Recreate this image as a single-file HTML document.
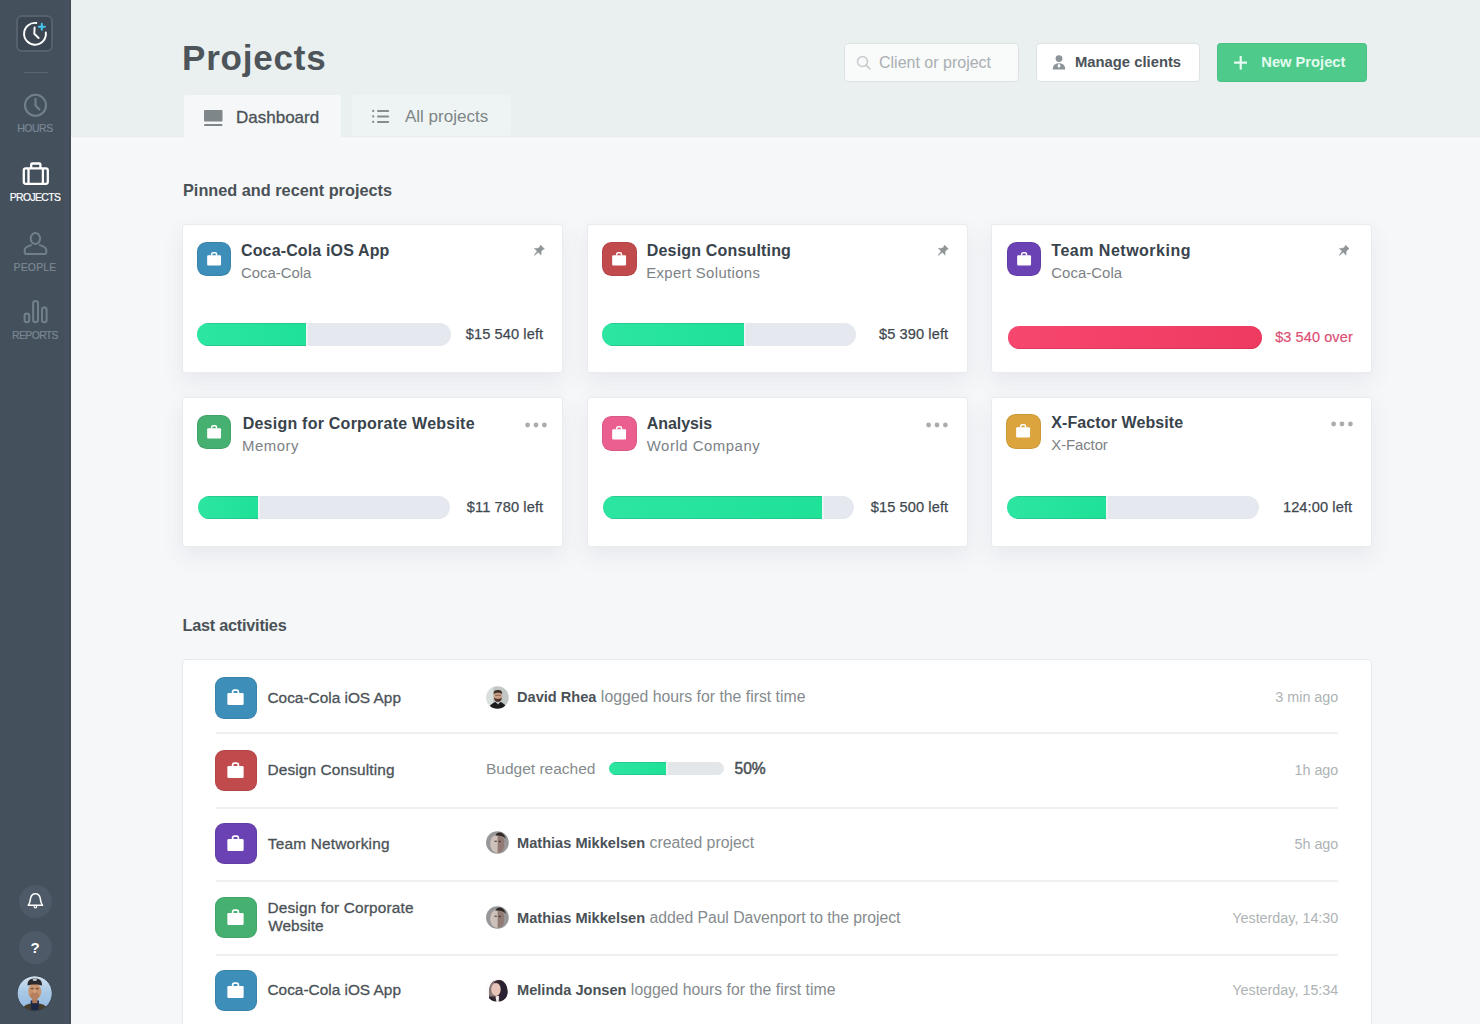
<!DOCTYPE html>
<html>
<head>
<meta charset="utf-8">
<title>Projects</title>
<style>
*{box-sizing:border-box;margin:0;padding:0}
html,body{width:1480px;height:1024px;overflow:hidden}
body{font-family:"Liberation Sans",sans-serif;background:#f6f7f9;color:#4a5257;position:relative}
.abs{position:absolute}
#sidebar{position:absolute;left:0;top:0;width:70.6px;height:1024px;background:linear-gradient(90deg,#44515d 0,#44515d 63.5px,#455061 65px,#455061 68.6px,#424b56 69.2px,#424b56 100%)}
#header{position:absolute;left:0;top:0;width:1480px;height:137px;background:#e9f0ef}
#hshadow{position:absolute;left:0;top:137px;width:1480px;height:7px;background:linear-gradient(180deg,#f0f4f5 0,#f8f9fb 22%,#f7f8fa 70%,#f6f7f9 100%)}
.navlabel{position:absolute;left:0;width:70px;text-align:center;font-size:10.4px;color:#7b8793}
.t{position:absolute;white-space:nowrap;line-height:1}
.card{position:absolute;width:381px;height:149px;background:#fff;border:1px solid #e9ebee;border-radius:3px;box-shadow:0 9px 22px rgba(65,80,100,.085)}
.picon{position:absolute;width:34.5px;height:34.5px;border-radius:9.5px;box-shadow:inset 0 0 0 1px rgba(0,0,0,.07)}
.track{position:absolute;height:23px;border-radius:12px;background:#e5e9ef;overflow:hidden}
.fill{position:absolute;left:0;top:0;height:100%;background:linear-gradient(90deg,#2ce5a1,#1fe198);box-shadow:inset 0 1px 0 rgba(40,110,90,.22),inset 0 -1px 0 rgba(40,110,90,.22),1.6px 0 0 rgba(255,255,255,.5)}
.ctitle{font-weight:bold;font-size:16px;color:#39434c}
.csub{font-size:14.9px;color:#7c8286}
.camt{font-size:14.6px;color:#3f484f;-webkit-text-stroke:.25px #3f484f;letter-spacing:.1px}
.aname{font-size:15.4px;color:#4b5257;-webkit-text-stroke:.3px #4b5257}
.who{font-size:14.6px;color:#4b5257;letter-spacing:0}
</style>
</head>
<body>
<div id="hshadow"></div>
<div id="header">
<div class="t" style="left:182px;top:39.5px;font-size:35px;font-weight:bold;color:#4d555a;letter-spacing:.8px">Projects</div>
<div class="abs" style="left:183.6px;top:95px;width:157.4px;height:49px;background:#f6f7f9;border-radius:3px 3px 0 0"></div>
<svg class="abs" style="left:203.5px;top:110px" width="19" height="17" viewBox="0 0 19 17"><rect x="0" y="0" width="18.5" height="11.5" rx="1" fill="#7f8689"/><rect x="0" y="14" width="18.5" height="2" rx="1" fill="#7f8689"/></svg>
<div class="t" style="left:236px;top:109px;font-size:17px;color:#4a5257;-webkit-text-stroke:.3px #4a5257">Dashboard</div>
<div class="abs" style="left:352.2px;top:95.2px;width:158.8px;height:41.2px;background:#eef4f3;border-radius:3px"></div>
<svg class="abs" style="left:372.3px;top:109.3px" width="18" height="15" viewBox="0 0 18 15"><g fill="#858c8f"><circle cx="1.2" cy="1.9" r="1.15"/><rect x="5" y="0.9" width="12.2" height="2" rx="1"/><circle cx="1.2" cy="7.4" r="1.15"/><rect x="5" y="6.4" width="12.2" height="2" rx="1"/><circle cx="1.2" cy="12.9" r="1.15"/><rect x="5" y="11.9" width="12.2" height="2" rx="1"/></g></svg>
<div class="t" style="left:405px;top:107.5px;font-size:17px;color:#7e8588">All projects</div>
<div class="abs" style="left:844px;top:43px;width:175px;height:39px;background:#f9fafa;border:1px solid #dde2e3;border-radius:4px"></div>
<svg class="abs" style="left:856px;top:55px" width="16" height="16" viewBox="0 0 16 16"><circle cx="6.5" cy="6.5" r="5" fill="none" stroke="#c6cbcd" stroke-width="1.5"/><path d="M10.3 10.3 L14 14" stroke="#c6cbcd" stroke-width="1.7" stroke-linecap="round"/></svg>
<div class="t" style="left:879px;top:54.5px;font-size:16px;color:#a9afb2">Client or project</div>
<div class="abs" style="left:1036px;top:43px;width:164px;height:39px;background:#fff;border:1px solid #dde2e3;border-radius:4px"></div>
<svg class="abs" style="left:1052px;top:55px" width="14" height="15" viewBox="0 0 14 15"><circle cx="7" cy="3.6" r="3.4" fill="#8d9497"/><path d="M0.8 14.5 C0.8 10.5 3 8.3 7 8.3 C11 8.3 13.2 10.5 13.2 14.5 Z" fill="#8d9497"/><path d="M7 8.3 L5.4 11 L7 13 L8.6 11 Z" fill="#fff"/></svg>
<div class="t" style="left:1075px;top:55px;font-size:14.8px;font-weight:bold;color:#4b5359">Manage clients</div>
<div class="abs" style="left:1217px;top:43px;width:150.4px;height:39px;background:#4eca8b;border-radius:4px;box-shadow:inset 0 0 0 1px rgba(0,0,0,.04)"></div>
<svg class="abs" style="left:1233.5px;top:56.3px" width="13.4" height="13.4" viewBox="0 0 14 14"><path d="M7 0.8V13.2M0.8 7H13.2" stroke="#e9fcf3" stroke-width="2.3" stroke-linecap="round"/></svg>
<div class="t" style="left:1261.3px;top:55.2px;font-size:14.7px;font-weight:bold;color:#e4fbf0">New Project</div>
</div>
<div id="sidebar">
<div class="abs" style="left:16.3px;top:15.4px;width:36.8px;height:36.7px;border:2px solid #55626e;border-radius:6px;background:#3b4652"></div>
<svg class="abs" style="left:17px;top:16px" width="36" height="36" viewBox="0 0 36 36">
<path d="M19.3 7.0 A10.9 10.9 0 1 0 28.8 16.5" fill="none" stroke="#fff" stroke-width="1.9" stroke-linecap="round"/>
<path d="M17.6 11.4 L17.3 17.8 L21.6 22" fill="none" stroke="#fff" stroke-width="1.9" stroke-linecap="round" stroke-linejoin="round"/>
<path d="M24.8 7.7 V13.7 M21.8 10.7 H27.8" stroke="#46c4e9" stroke-width="2" stroke-linecap="round"/>
</svg>
<div class="abs" style="left:23.5px;top:71.5px;width:24.5px;height:1.5px;background:#5a6673"></div>
<svg class="abs" style="left:22px;top:92px" width="27" height="27" viewBox="0 0 27 27">
<circle cx="13.5" cy="13.3" r="10.5" fill="none" stroke="#72808c" stroke-width="2.1"/>
<path d="M13.5 6.8 V13.6 L17.4 17.4" fill="none" stroke="#72808c" stroke-width="2.1" stroke-linecap="round" stroke-linejoin="round"/>
</svg>
<div class="navlabel t" style="top:124.4px;letter-spacing:-.4px;-webkit-text-stroke:.2px #7b8793">HOURS</div>
<svg class="abs" style="left:21px;top:160px" width="30" height="27" viewBox="0 0 30 27">
<rect x="2.8" y="8.3" width="24" height="15.5" rx="2" fill="none" stroke="#fff" stroke-width="2.3"/>
<path d="M10.2 8 V4.6 Q10.2 3.5 11.3 3.5 H18.3 Q19.4 3.5 19.4 4.6 V8" fill="none" stroke="#fff" stroke-width="2.3"/>
<path d="M7.5 8.3 V23.8 M21.9 8.3 V23.8" stroke="#fff" stroke-width="2.3"/>
</svg>
<div class="navlabel t" style="top:193.2px;color:#fff;letter-spacing:-.62px;-webkit-text-stroke:.2px #fff">PROJECTS</div>
<svg class="abs" style="left:21px;top:229px" width="30" height="28" viewBox="0 0 30 28">
<ellipse cx="14.4" cy="9.5" rx="4.7" ry="5.6" fill="none" stroke="#72808b" stroke-width="2"/>
<path d="M10.9 15.9 C7.4 17 3.7 17.9 3.7 20.9 V23.6 Q3.7 24.9 5 24.9 H24 Q25.3 24.9 25.3 23.6 V20.9 C25.3 17.9 21.6 17 18.1 15.9" fill="none" stroke="#72808b" stroke-width="2" stroke-linejoin="round"/>
</svg>
<div class="navlabel t" style="top:263px;letter-spacing:.2px;-webkit-text-stroke:.2px #7b8793">PEOPLE</div>
<svg class="abs" style="left:21px;top:297px" width="30" height="28" viewBox="0 0 30 28">
<rect x="3.6" y="16.6" width="4.6" height="8.6" rx="2.3" fill="none" stroke="#72808c" stroke-width="2"/>
<rect x="12.1" y="3.9" width="4.9" height="21.3" rx="2.4" fill="none" stroke="#72808c" stroke-width="2"/>
<rect x="21" y="10.4" width="4.6" height="14.8" rx="2.3" fill="none" stroke="#72808c" stroke-width="2"/>
</svg>
<div class="navlabel t" style="top:331.2px;letter-spacing:-.6px;-webkit-text-stroke:.2px #7b8793">REPORTS</div>
<div class="abs" style="left:18.5px;top:884.5px;width:33px;height:33px;border-radius:50%;background:#4e5a67"></div>
<svg class="abs" style="left:25px;top:891px" width="21" height="21" viewBox="0 0 21 21">
<path d="M3.2 14.2 C5.3 12.3 5.1 9.4 5.6 7.2 C6.2 4.4 8 2.8 10.4 2.8 C12.8 2.8 14.6 4.4 15.2 7.2 C15.7 9.4 15.5 12.3 17.6 14.2 Z" fill="none" stroke="#fff" stroke-width="1.5" stroke-linejoin="round"/>
<circle cx="10.4" cy="15.6" r="1.3" fill="none" stroke="#fff" stroke-width="1.1"/>
</svg>
<div class="abs" style="left:18.5px;top:931px;width:33px;height:33px;border-radius:50%;background:#4e5a67"></div>
<div class="t" style="left:18.5px;width:33px;text-align:center;top:939.5px;font-size:15px;font-weight:bold;color:#fff">?</div>
<svg class="abs" style="left:17px;top:976px" width="36" height="36" viewBox="0 0 36 36">
<defs><clipPath id="av"><circle cx="17.7" cy="17.4" r="17.5"/></clipPath><filter id="bl" x="-20%" y="-20%" width="140%" height="140%"><feGaussianBlur stdDeviation="0.75"/></filter>
<linearGradient id="sky" x1="0" y1="0" x2="0" y2="1"><stop offset="0" stop-color="#dce7ef"/><stop offset=".45" stop-color="#a8c8e6"/><stop offset="1" stop-color="#8db4de"/></linearGradient></defs>
<g clip-path="url(#av)"><g filter="url(#bl)">
<rect x="-3" y="-3" width="42" height="42" fill="url(#sky)"/>
<path d="M4 37 C5 30 10 28 14 27.6 L18 33 L21.6 27.6 C26 28 31 30 32 37 Z" fill="#473b2c"/>
<path d="M13.6 24.5 L22 24.5 L21.4 36 L14.4 36 Z" fill="#1c2645"/>
<rect x="15.2" y="21" width="5.2" height="6.2" fill="#a97659"/>
<ellipse cx="17.7" cy="15.4" rx="6.5" ry="8.3" fill="#c9946f"/><ellipse cx="17.7" cy="19.6" rx="4.6" ry="3.6" fill="#b57f5f"/><ellipse cx="15.2" cy="12.6" rx="1.7" ry="0.9" fill="#7a5540"/><ellipse cx="20.2" cy="12.6" rx="1.7" ry="0.9" fill="#7a5540"/><ellipse cx="17.7" cy="15.6" rx="1.1" ry="2" fill="#d9a37e"/>
<path d="M10.6 9.6 C10.2 3.6 14 2.4 17.8 2.4 C21.6 2.4 25.4 3.6 25 9.6 C22 8 13.6 8 10.6 9.6 Z" fill="#2c2a2d"/>
<ellipse cx="17.8" cy="3.8" rx="2.2" ry="1.2" fill="#b9c4cc"/>
</g></g>
<circle cx="17.7" cy="17.4" r="17.6" fill="none" stroke="#3b4754" stroke-width="1"/>
</svg>
</div>
<div id="content">
<div class="t" style="left:183px;top:182px;font-size:16.3px;font-weight:bold;color:#4a5257">Pinned and recent projects</div>
<div class="card" style="left:182px;top:224px;height:149px"><div class="picon" style="left:13.7px;top:16.7px;background:#3d8eb9"><svg class="abs" style="left:9.15px;top:9.3px" width="16.2" height="16.2" viewBox="0 0 14 14"><path d="M1 4.6 Q1 3.6 2 3.6 H12 Q13 3.6 13 4.6 V11.6 Q13 12.6 12 12.6 H2 Q1 12.6 1 11.6 Z" fill="#fff"/><path d="M4.9 3.8 V2.9 Q4.9 1.6 6.2 1.6 H7.8 Q9.1 1.6 9.1 2.9 V3.8" fill="none" stroke="#fff" stroke-width="1.3"/></svg></div><div class="t ctitle" style="left:58px;top:18px;letter-spacing:0.14px">Coca-Cola iOS App</div><div class="t csub" style="left:58px;top:40.5px;letter-spacing:0.0px">Coca-Cola</div><svg class="abs" style="left:351.4px;top:20.4px" width="10.6" height="10.6" viewBox="0 0 10.6 10.6"><path d="M6.4 0 L10.5 3.9 L8.6 4.7 L7.2 6.5 L7.1 10.3 L4.3 7.3 L0.4 10.5 L0.1 10.2 L3.2 6.1 L0.2 3.4 L3.9 3.3 L5.8 1.9 Z" fill="#8f9597" stroke="#8f9597" stroke-width=".4" stroke-linejoin="round"/></svg><div class="track" style="left:14px;top:98px;width:253.5px"><div class="fill" style="width:109.4px"></div></div><div class="t camt" style="right:18.8px;top:102.2px">$15 540 left</div></div>
<div class="card" style="left:587px;top:224px;height:149px"><div class="picon" style="left:14.299999999999999px;top:16.7px;background:#c14a4d"><svg class="abs" style="left:9.15px;top:9.3px" width="16.2" height="16.2" viewBox="0 0 14 14"><path d="M1 4.6 Q1 3.6 2 3.6 H12 Q13 3.6 13 4.6 V11.6 Q13 12.6 12 12.6 H2 Q1 12.6 1 11.6 Z" fill="#fff"/><path d="M4.9 3.8 V2.9 Q4.9 1.6 6.2 1.6 H7.8 Q9.1 1.6 9.1 2.9 V3.8" fill="none" stroke="#fff" stroke-width="1.3"/></svg></div><div class="t ctitle" style="left:58.8px;top:18px;letter-spacing:0.17px">Design Consulting</div><div class="t csub" style="left:58.3px;top:40.5px;letter-spacing:0.34px">Expert Solutions</div><svg class="abs" style="left:350px;top:20.4px" width="10.6" height="10.6" viewBox="0 0 10.6 10.6"><path d="M6.4 0 L10.5 3.9 L8.6 4.7 L7.2 6.5 L7.1 10.3 L4.3 7.3 L0.4 10.5 L0.1 10.2 L3.2 6.1 L0.2 3.4 L3.9 3.3 L5.8 1.9 Z" fill="#8f9597" stroke="#8f9597" stroke-width=".4" stroke-linejoin="round"/></svg><div class="track" style="left:14px;top:98px;width:254px"><div class="fill" style="width:142px"></div></div><div class="t camt" style="right:18.8px;top:102.2px">$5 390 left</div></div>
<div class="card" style="left:991px;top:224px;height:149px"><div class="picon" style="left:14.7px;top:16.7px;background:#6a42b3"><svg class="abs" style="left:9.15px;top:9.3px" width="16.2" height="16.2" viewBox="0 0 14 14"><path d="M1 4.6 Q1 3.6 2 3.6 H12 Q13 3.6 13 4.6 V11.6 Q13 12.6 12 12.6 H2 Q1 12.6 1 11.6 Z" fill="#fff"/><path d="M4.9 3.8 V2.9 Q4.9 1.6 6.2 1.6 H7.8 Q9.1 1.6 9.1 2.9 V3.8" fill="none" stroke="#fff" stroke-width="1.3"/></svg></div><div class="t ctitle" style="left:59.3px;top:18px;letter-spacing:0.5px">Team Networking</div><div class="t csub" style="left:59.3px;top:40.5px;letter-spacing:0.05px">Coca-Cola</div><svg class="abs" style="left:346.7px;top:20.4px" width="10.6" height="10.6" viewBox="0 0 10.6 10.6"><path d="M6.4 0 L10.5 3.9 L8.6 4.7 L7.2 6.5 L7.1 10.3 L4.3 7.3 L0.4 10.5 L0.1 10.2 L3.2 6.1 L0.2 3.4 L3.9 3.3 L5.8 1.9 Z" fill="#8f9597" stroke="#8f9597" stroke-width=".4" stroke-linejoin="round"/></svg><div class="track" style="left:16px;top:101px;width:254.3px;background:linear-gradient(90deg,#f6476f,#ee3a60);box-shadow:inset 0 -1px 0 rgba(160,20,50,.25)"></div><div class="t camt" style="right:18.2px;top:105.2px;font-size:14.5px;color:#dc4f75;-webkit-text-stroke:.2px #dc4f75">$3 540 over</div></div>
<div class="card" style="left:182px;top:397px;height:150px"><div class="picon" style="left:13.7px;top:16.7px;background:#45b070"><svg class="abs" style="left:9.15px;top:9.3px" width="16.2" height="16.2" viewBox="0 0 14 14"><path d="M1 4.6 Q1 3.6 2 3.6 H12 Q13 3.6 13 4.6 V11.6 Q13 12.6 12 12.6 H2 Q1 12.6 1 11.6 Z" fill="#fff"/><path d="M4.9 3.8 V2.9 Q4.9 1.6 6.2 1.6 H7.8 Q9.1 1.6 9.1 2.9 V3.8" fill="none" stroke="#fff" stroke-width="1.3"/></svg></div><div class="t ctitle" style="left:59.7px;top:18px;letter-spacing:0.235px">Design for Corporate Website</div><div class="t csub" style="left:59px;top:40.5px;letter-spacing:0.55px">Memory</div><svg class="abs" style="left:341.7px;top:23.9px" width="22" height="6" viewBox="0 0 22 6"><circle cx="2.6" cy="3" r="2.4" fill="#a9adb0"/><circle cx="11" cy="3" r="2.4" fill="#a9adb0"/><circle cx="19.4" cy="3" r="2.4" fill="#a9adb0"/></svg><div class="track" style="left:15.2px;top:98px;width:252px"><div class="fill" style="width:60px"></div></div><div class="t camt" style="right:18.8px;top:102.2px">$11 780 left</div></div>
<div class="card" style="left:587px;top:397px;height:150px"><div class="picon" style="left:14.2px;top:18.0px;background:#ea5f8f"><svg class="abs" style="left:9.15px;top:9.3px" width="16.2" height="16.2" viewBox="0 0 14 14"><path d="M1 4.6 Q1 3.6 2 3.6 H12 Q13 3.6 13 4.6 V11.6 Q13 12.6 12 12.6 H2 Q1 12.6 1 11.6 Z" fill="#fff"/><path d="M4.9 3.8 V2.9 Q4.9 1.6 6.2 1.6 H7.8 Q9.1 1.6 9.1 2.9 V3.8" fill="none" stroke="#fff" stroke-width="1.3"/></svg></div><div class="t ctitle" style="left:58.8px;top:18px;letter-spacing:-0.08px">Analysis</div><div class="t csub" style="left:58.8px;top:40.5px;letter-spacing:0.53px">World Company</div><svg class="abs" style="left:338.3px;top:23.9px" width="22" height="6" viewBox="0 0 22 6"><circle cx="2.6" cy="3" r="2.4" fill="#a9adb0"/><circle cx="11" cy="3" r="2.4" fill="#a9adb0"/><circle cx="19.4" cy="3" r="2.4" fill="#a9adb0"/></svg><div class="track" style="left:14.8px;top:98px;width:251.7px"><div class="fill" style="width:219px"></div></div><div class="t camt" style="right:18.8px;top:102.2px">$15 500 left</div></div>
<div class="card" style="left:991px;top:397px;height:150px"><div class="picon" style="left:14.299999999999999px;top:16.0px;background:#dba43d"><svg class="abs" style="left:9.15px;top:9.3px" width="16.2" height="16.2" viewBox="0 0 14 14"><path d="M1 4.6 Q1 3.6 2 3.6 H12 Q13 3.6 13 4.6 V11.6 Q13 12.6 12 12.6 H2 Q1 12.6 1 11.6 Z" fill="#fff"/><path d="M4.9 3.8 V2.9 Q4.9 1.6 6.2 1.6 H7.8 Q9.1 1.6 9.1 2.9 V3.8" fill="none" stroke="#fff" stroke-width="1.3"/></svg></div><div class="t ctitle" style="left:59.3px;top:17.3px;letter-spacing:0.1px">X-Factor Website</div><div class="t csub" style="left:59.3px;top:39.8px;letter-spacing:-0.08px">X-Factor</div><svg class="abs" style="left:338.6px;top:23.2px" width="22" height="6" viewBox="0 0 22 6"><circle cx="2.6" cy="3" r="2.4" fill="#a9adb0"/><circle cx="11" cy="3" r="2.4" fill="#a9adb0"/><circle cx="19.4" cy="3" r="2.4" fill="#a9adb0"/></svg><div class="track" style="left:15.3px;top:98px;width:252px"><div class="fill" style="width:99px"></div></div><div class="t camt" style="right:18.8px;top:102.2px">124:00 left</div></div>
<div class="t" style="left:182.5px;top:617px;font-size:16.3px;font-weight:bold;color:#4a5257;letter-spacing:-.25px">Last activities</div>
<div class="abs" style="left:182px;top:659px;width:1190px;height:380px;background:#fff;border:1px solid #e8ebed;border-radius:4px"></div>
<div class="abs" style="left:216px;top:731.6px;width:1122px;height:2px;background:#eff0f2"></div>
<div class="abs" style="left:216px;top:807.3px;width:1122px;height:2px;background:#eff0f2"></div>
<div class="abs" style="left:216px;top:880px;width:1122px;height:2px;background:#eff0f2"></div>
<div class="abs" style="left:216px;top:954px;width:1122px;height:2px;background:#eff0f2"></div>
<div class="abs" style="left:215px;top:677px;width:41.5px;height:41.5px;border-radius:9px;box-shadow:inset 0 0 0 1px rgba(0,0,0,.07);background:#3d8eb9"><svg class="abs" style="left:11.25px;top:11.4px" width="19" height="19" viewBox="0 0 14 14"><path d="M1 4.6 Q1 3.6 2 3.6 H12 Q13 3.6 13 4.6 V11.6 Q13 12.6 12 12.6 H2 Q1 12.6 1 11.6 Z" fill="#fff"/><path d="M4.9 3.8 V2.9 Q4.9 1.6 6.2 1.6 H7.8 Q9.1 1.6 9.1 2.9 V3.8" fill="none" stroke="#fff" stroke-width="1.3"/></svg></div>
<div class="t aname" style="left:267.5px;top:689.55px;letter-spacing:0px">Coca-Cola iOS App</div>
<svg class="abs" style="left:486px;top:685.95px" width="23" height="23" viewBox="0 0 23 23"><defs><clipPath id="c0"><circle cx="11.4" cy="11.5" r="11.35"/></clipPath><filter id="f0" x="-20%" y="-20%" width="140%" height="140%"><feGaussianBlur stdDeviation="0.55"/></filter></defs><g clip-path="url(#c0)"><g filter="url(#f0)"><rect x="-3" y="-3" width="29" height="29" fill="#c3c7c4"/><rect x="-3" y="-3" width="10" height="29" fill="#d9dfdd"/><path d="M1.5 24 C3.5 18.5 7.5 16.8 9.6 16 L12 18.6 L14.4 16 C16.5 16.8 20 18.5 21.5 24 Z" fill="#1c1c1e"/><ellipse cx="11.9" cy="10.2" rx="4.2" ry="5.5" fill="#c9a088"/><path d="M7.6 8.2 C7.6 4.4 9.6 3.9 11.9 3.9 C14.2 3.9 16.2 4.4 16.2 8.2 C14.8 6.2 9 6.2 7.6 8.2 Z" fill="#3b2f28"/><path d="M7.9 11.6 C8.4 17.6 15.4 17.6 15.9 11.6 C14.4 13.4 9.4 13.4 7.9 11.6 Z" fill="#4c352b"/><rect x="9.2" y="8.8" width="5.6" height="1" fill="#6a4a3c" opacity=".7"/></g></g></svg>
<div class="t" style="left:517px;top:689.15px;font-size:15.8px;color:#858b8e;letter-spacing:0px"><b class="who">David Rhea</b> logged hours for the first time</div>
<div class="t" style="right:141.70000000000005px;top:690.05px;font-size:14.35px;color:#aeb3b5">3 min ago</div>
<div class="abs" style="left:215px;top:749.5px;width:41.5px;height:41.5px;border-radius:9px;box-shadow:inset 0 0 0 1px rgba(0,0,0,.07);background:#c14a4d"><svg class="abs" style="left:11.25px;top:11.4px" width="19" height="19" viewBox="0 0 14 14"><path d="M1 4.6 Q1 3.6 2 3.6 H12 Q13 3.6 13 4.6 V11.6 Q13 12.6 12 12.6 H2 Q1 12.6 1 11.6 Z" fill="#fff"/><path d="M4.9 3.8 V2.9 Q4.9 1.6 6.2 1.6 H7.8 Q9.1 1.6 9.1 2.9 V3.8" fill="none" stroke="#fff" stroke-width="1.3"/></svg></div>
<div class="t aname" style="left:267.5px;top:762.3499999999999px;letter-spacing:0.13px">Design Consulting</div>
<div class="t" style="left:486px;top:760.75px;font-size:15.5px;color:#858b8e">Budget reached</div>
<div class="track" style="left:608.5px;top:762.25px;width:115px;height:12.5px;border-radius:7px;background:#e3e7ea"><div class="fill" style="width:57.5px"></div></div>
<div class="t" style="left:734.5px;top:760.75px;font-size:15.6px;color:#4b5257;-webkit-text-stroke:.5px #4b5257">50%</div>
<div class="t" style="right:141.70000000000005px;top:762.8499999999999px;font-size:14.35px;color:#aeb3b5">1h ago</div>
<div class="abs" style="left:215px;top:822.5px;width:41.5px;height:41.5px;border-radius:9px;box-shadow:inset 0 0 0 1px rgba(0,0,0,.07);background:#6a42b3"><svg class="abs" style="left:11.25px;top:11.4px" width="19" height="19" viewBox="0 0 14 14"><path d="M1 4.6 Q1 3.6 2 3.6 H12 Q13 3.6 13 4.6 V11.6 Q13 12.6 12 12.6 H2 Q1 12.6 1 11.6 Z" fill="#fff"/><path d="M4.9 3.8 V2.9 Q4.9 1.6 6.2 1.6 H7.8 Q9.1 1.6 9.1 2.9 V3.8" fill="none" stroke="#fff" stroke-width="1.3"/></svg></div>
<div class="t aname" style="left:267.8px;top:836.4499999999999px;letter-spacing:0.2px">Team Networking</div>
<svg class="abs" style="left:486px;top:830.75px" width="23" height="23" viewBox="0 0 23 23"><defs><clipPath id="c2"><circle cx="11.4" cy="11.5" r="11.35"/></clipPath><filter id="f2" x="-20%" y="-20%" width="140%" height="140%"><feGaussianBlur stdDeviation="0.55"/></filter></defs><g clip-path="url(#c2)"><g filter="url(#f2)"><rect x="-3" y="-3" width="29" height="29" fill="#97979a"/><ellipse cx="11.3" cy="12.8" rx="7.2" ry="9.2" fill="#cdc1ba"/><path d="M11.6 3.6 C17 3.6 18.5 8 18.5 12.8 C18.5 17 17 22 11.6 22 Z" fill="#917a73"/><path d="M9.5 5 C10 0.6 17.5 -0.5 19.8 7.8 C16.5 4.4 12.5 4.2 9.5 5 Z" fill="#2e2623"/><rect x="8.6" y="9.6" width="2.2" height="1.4" fill="#5d504b"/><rect x="12.6" y="9.8" width="2.2" height="1.4" fill="#4a3b37"/></g></g></svg>
<div class="t" style="left:517px;top:834.9499999999999px;font-size:15.8px;color:#858b8e;letter-spacing:0px"><b class="who">Mathias Mikkelsen</b> created project</div>
<div class="t" style="right:141.70000000000005px;top:836.8499999999999px;font-size:14.35px;color:#aeb3b5">5h ago</div>
<div class="abs" style="left:215px;top:896.5px;width:41.5px;height:41.5px;border-radius:9px;box-shadow:inset 0 0 0 1px rgba(0,0,0,.07);background:#45b070"><svg class="abs" style="left:11.25px;top:11.4px" width="19" height="19" viewBox="0 0 14 14"><path d="M1 4.6 Q1 3.6 2 3.6 H12 Q13 3.6 13 4.6 V11.6 Q13 12.6 12 12.6 H2 Q1 12.6 1 11.6 Z" fill="#fff"/><path d="M4.9 3.8 V2.9 Q4.9 1.6 6.2 1.6 H7.8 Q9.1 1.6 9.1 2.9 V3.8" fill="none" stroke="#fff" stroke-width="1.3"/></svg></div>
<div class="t aname" style="left:267.5px;top:899.75px;letter-spacing:0.165px">Design for Corporate</div>
<div class="t aname" style="left:268.3px;top:918.25px;letter-spacing:0px">Website</div>
<svg class="abs" style="left:486px;top:905.75px" width="23" height="23" viewBox="0 0 23 23"><defs><clipPath id="c3"><circle cx="11.4" cy="11.5" r="11.35"/></clipPath><filter id="f3" x="-20%" y="-20%" width="140%" height="140%"><feGaussianBlur stdDeviation="0.55"/></filter></defs><g clip-path="url(#c3)"><g filter="url(#f3)"><rect x="-3" y="-3" width="29" height="29" fill="#97979a"/><ellipse cx="11.3" cy="12.8" rx="7.2" ry="9.2" fill="#cdc1ba"/><path d="M11.6 3.6 C17 3.6 18.5 8 18.5 12.8 C18.5 17 17 22 11.6 22 Z" fill="#917a73"/><path d="M9.5 5 C10 0.6 17.5 -0.5 19.8 7.8 C16.5 4.4 12.5 4.2 9.5 5 Z" fill="#2e2623"/><rect x="8.6" y="9.6" width="2.2" height="1.4" fill="#5d504b"/><rect x="12.6" y="9.8" width="2.2" height="1.4" fill="#4a3b37"/></g></g></svg>
<div class="t" style="left:517px;top:909.85px;font-size:15.8px;color:#858b8e;letter-spacing:-0.06px"><b class="who">Mathias Mikkelsen</b> added Paul Davenport to the project</div>
<div class="t" style="right:141.70000000000005px;top:911.05px;font-size:14.35px;color:#aeb3b5">Yesterday, 14:30</div>
<div class="abs" style="left:215px;top:969.5px;width:41.5px;height:41.5px;border-radius:9px;box-shadow:inset 0 0 0 1px rgba(0,0,0,.07);background:#3d8eb9"><svg class="abs" style="left:11.25px;top:11.4px" width="19" height="19" viewBox="0 0 14 14"><path d="M1 4.6 Q1 3.6 2 3.6 H12 Q13 3.6 13 4.6 V11.6 Q13 12.6 12 12.6 H2 Q1 12.6 1 11.6 Z" fill="#fff"/><path d="M4.9 3.8 V2.9 Q4.9 1.6 6.2 1.6 H7.8 Q9.1 1.6 9.1 2.9 V3.8" fill="none" stroke="#fff" stroke-width="1.3"/></svg></div>
<div class="t aname" style="left:267.5px;top:981.75px;letter-spacing:0px">Coca-Cola iOS App</div>
<svg class="abs" style="left:486px;top:978.6500000000001px" width="23" height="23" viewBox="0 0 23 23"><defs><clipPath id="c4"><circle cx="11.4" cy="11.5" r="11.35"/></clipPath><filter id="f4" x="-20%" y="-20%" width="140%" height="140%"><feGaussianBlur stdDeviation="0.55"/></filter></defs><g clip-path="url(#c4)"><g filter="url(#f4)"><rect x="-3" y="-3" width="29" height="29" fill="#fbfbfb"/><path d="M3.2 18 C2.4 11 3.6 3.6 8.5 2 C10 1.4 12 0.8 14 1 C19.5 2 21.5 8 21.5 13 C21.5 18 18 22.5 13.5 23.5 L5 23.5 Z" fill="#3a2b34"/><path d="M3.2 17.5 C2.4 10 4 4 8.5 2 L8.5 17.5 Z" fill="#8d7b79"/><path d="M13.5 1.2 C19.5 2.4 21.5 8 21.5 13 C21.5 18 18.5 22 14 23.4 Z" fill="#2a2230"/><ellipse cx="10" cy="10.4" rx="4.7" ry="6.5" fill="#e8c3b8"/><path d="M3 17.4 C5 18.4 8 20 9.6 23.5 L3 23.5 Z" fill="#221f2a"/><path d="M9.4 17.2 L13 17 L12.6 23.5 L10.6 23.5 Z" fill="#f4eef0"/></g></g></svg>
<div class="t" style="left:517px;top:981.9499999999999px;font-size:15.8px;color:#858b8e;letter-spacing:0px"><b class="who">Melinda Jonsen</b> logged hours for the first time</div>
<div class="t" style="right:141.70000000000005px;top:983.05px;font-size:14.35px;color:#aeb3b5">Yesterday, 15:34</div>
</div>
</body>
</html>
